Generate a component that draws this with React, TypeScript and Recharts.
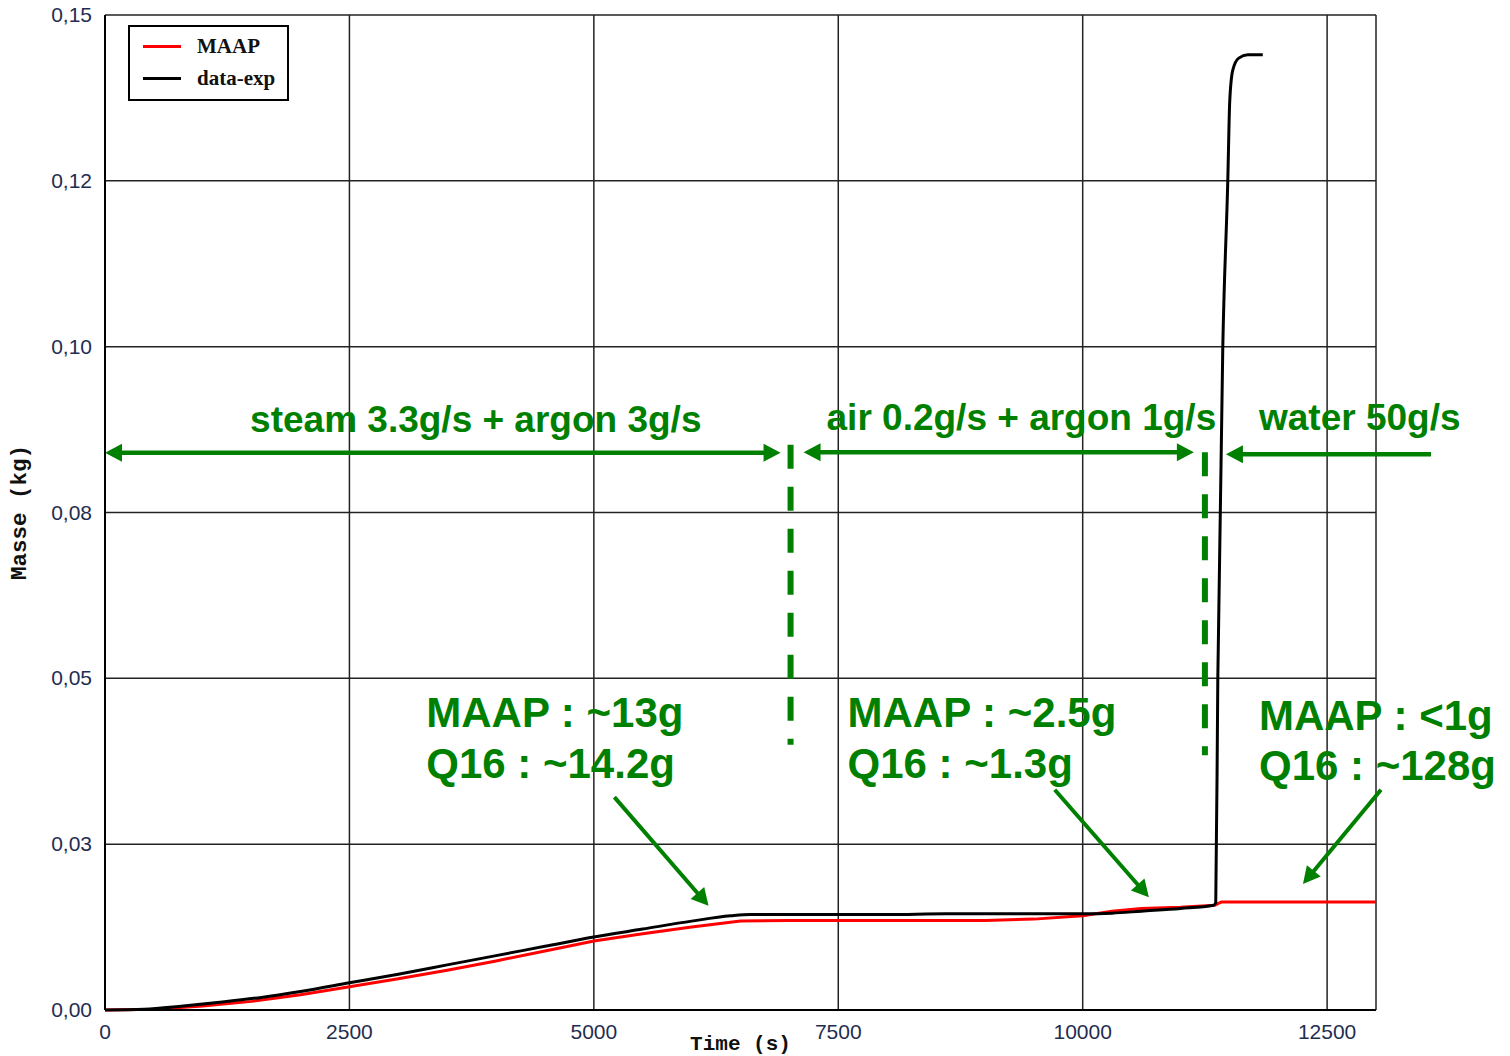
import React from 'react';
import {
  LineChart,
  Line,
  XAxis,
  YAxis,
  CartesianGrid,
  Legend,
  ReferenceLine,
  ReferenceDot,
} from 'recharts';

// MAAP calculation: cumulated mass (kg) vs time (s)
const maapTime = [0, 500, 1000, 1500, 2000, 2500, 3000, 3500, 4000, 4500, 5000, 5500, 6000, 6500, 7000, 8000, 9000, 9500, 10000, 10300, 10600, 11000, 11350, 11420, 13000];
const maapMass = [0, 0.0001, 0.0006, 0.0013, 0.0023, 0.0035, 0.0047, 0.006, 0.0074, 0.0089, 0.0104, 0.0115, 0.0125, 0.0134, 0.0135, 0.0135, 0.0135, 0.0137, 0.0142, 0.0149, 0.0153, 0.0155, 0.0158, 0.0163, 0.0163];

// experimental measurement
const expTime = [0, 400, 800, 1200, 1600, 2000, 2500, 3000, 3500, 4000, 4500, 5000, 5500, 6000, 6400, 6600, 8000, 8600, 9000, 10000, 10300, 10600, 11000, 11340, 11361, 11382, 11433, 11484, 11504, 11535, 11596, 11689, 11842];
const expMass = [0, 0.0001, 0.0006, 0.0012, 0.0019, 0.0028, 0.0041, 0.0054, 0.0068, 0.0082, 0.0096, 0.011, 0.0122, 0.0134, 0.0142, 0.0144, 0.0144, 0.0145, 0.0145, 0.0145, 0.0146, 0.0149, 0.0153, 0.0158, 0.0162, 0.05, 0.1, 0.125, 0.137, 0.1417, 0.1435, 0.144, 0.144];

const xTicks = [0, 2500, 5000, 7500, 10000, 12500, 13000];
const xTickLabels = ['0', '2500', '5000', '7500', '10000', '12500', ''];
const yTicks = [0, 0.025, 0.05, 0.075, 0.1, 0.125, 0.15];
const yTickLabels = ['0,00', '0,03', '0,05', '0,08', '0,10', '0,12', '0,15'];

// injection phases
const flowLabels = [
  { text: 'steam 3.3g/s + argon 3g/s', t: 1484, m: 0.0871 },
  { text: 'air 0.2g/s + argon 1g/s', t: 7380, m: 0.0874 },
  { text: 'water 50g/s', t: 11803, m: 0.0874 },
];
const flowArrows = [
  { from: [0, 0.084], to: [6910, 0.084], both: true },
  { from: [7145, 0.0841], to: [11137, 0.0841], both: true },
  { from: [13563, 0.0838], to: [11465, 0.0838], both: false },
];
const phaseLimits = [
  { t: 7012, top: 0.0852, bottom: 0.04 },
  { t: 11250, top: 0.0841, bottom: 0.0384 },
];

// mass produced in each phase
const massLabels = [
  { text: 'MAAP : ~13g', t: 3286, m: 0.0427 },
  { text: 'Q16 : ~14.2g', t: 3286, m: 0.035 },
  { text: 'MAAP : ~2.5g', t: 7595, m: 0.0427 },
  { text: 'Q16 : ~1.3g', t: 7595, m: 0.035 },
  { text: 'MAAP : <1g', t: 11803, m: 0.0422 },
  { text: 'Q16 : ~128g', t: 11803, m: 0.0347 },
];
const massArrows = [
  { from: [5210, 0.0321], to: [6173, 0.0157] },
  { from: [9714, 0.0332], to: [10677, 0.017] },
  { from: [13051, 0.0332], to: [12253, 0.019] },
];

const maapData = maapTime.map((t, i) => ({ t, m: maapMass[i] }));
const expData = expTime.map((t, i) => ({ t, m: expMass[i] }));

const GREEN = '#008000';
const TICK_COLOR = '#1f2d50';
const SANS = '"Liberation Sans", Arial, sans-serif';
const MONO = '"Liberation Mono", "Courier New", monospace';

const arrowShape = (both: boolean, width: number) => (p: any) => {
  const { x1, y1, x2, y2 } = p;
  const len = Math.hypot(x2 - x1, y2 - y1) || 1;
  const ux = (x2 - x1) / len;
  const uy = (y2 - y1) / len;
  const hl = 17;
  const hw = 9;
  const head = (tx: number, ty: number, dx: number, dy: number) => {
    const bx = tx - dx * hl;
    const by = ty - dy * hl;
    return `${tx},${ty} ${bx - dy * hw},${by + dx * hw} ${bx + dy * hw},${by - dx * hw}`;
  };
  const sx = both ? x1 + ux * (hl - 2) : x1;
  const sy = both ? y1 + uy * (hl - 2) : y1;
  return (
    <g>
      <line x1={sx} y1={sy} x2={x2 - ux * (hl - 2)} y2={y2 - uy * (hl - 2)} stroke={GREEN} strokeWidth={width} />
      <polygon points={head(x2, y2, ux, uy)} fill={GREEN} />
      {both && <polygon points={head(x1, y1, -ux, -uy)} fill={GREEN} />}
    </g>
  );
};

const textShape = (text: string, size: number) => (p: any) => (
  <text x={p.cx} y={p.cy} fill={GREEN} fontFamily={SANS} fontWeight={700} fontSize={size}>
    {text}
  </text>
);

const XTick = ({ x, y, payload, index }: any) => (
  <text x={x} y={y + 29} textAnchor="middle" fill={TICK_COLOR} fontFamily={SANS} fontSize={21}>
    {xTickLabels[xTicks.indexOf(payload.value)] ?? xTickLabels[index]}
  </text>
);

const YTick = ({ x, y, payload, index }: any) => (
  <text x={x - 13} y={y + 7} textAnchor="end" fill={TICK_COLOR} fontFamily={SANS} fontSize={21}>
    {yTickLabels[yTicks.indexOf(payload.value)] ?? yTickLabels[index]}
  </text>
);

const LegendBox = ({ payload }: any) => (
  <div
    style={{
      boxSizing: 'border-box',
      width: 161,
      height: 76,
      border: '2px solid #000',
      background: '#fff',
      paddingTop: 3,
      fontFamily: '"Liberation Serif", "Times New Roman", serif',
      fontWeight: 700,
      fontSize: 21,
      color: '#111',
    }}
  >
    {(payload || []).map((item: any) => (
      <div key={item.value} style={{ display: 'flex', alignItems: 'center', height: 32, marginLeft: 13 }}>
        <span style={{ display: 'inline-block', width: 38, height: 3, background: item.color, marginRight: 16 }} />
        <span>{item.value}</span>
      </div>
    ))}
  </div>
);

export default function App() {
  return (
    <div style={{ position: 'absolute', left: 0, top: 0, background: '#fff' }}>
      <LineChart width={1510} height={1056} margin={{ top: 15, right: 134, bottom: 0, left: 0 }}>
        <CartesianGrid stroke="#222" strokeWidth={1.5} />
        <XAxis
          type="number"
          dataKey="t"
          domain={[0, 13000]}
          ticks={xTicks}
          height={46}
          tickSize={0}
          tickMargin={0}
          tickLine={false}
          axisLine={{ stroke: '#000', strokeWidth: 2 }}
          tick={<XTick />}
          interval={0}
          label={{
            content: ({ viewBox }: any) => (
              <text
                x={viewBox.x + viewBox.width / 2}
                y={viewBox.y + 40}
                textAnchor="middle"
                fontFamily={MONO}
                fontWeight={700}
                fontSize={21}
                fill="#111"
              >
                Time (s)
              </text>
            ),
          }}
        />
        <YAxis
          type="number"
          domain={[0, 0.15]}
          ticks={yTicks}
          width={105}
          tickSize={0}
          tickMargin={0}
          tickLine={false}
          axisLine={{ stroke: '#000', strokeWidth: 2 }}
          tick={<YTick />}
          interval={0}
          label={{
            content: ({ viewBox }: any) => {
              const cx = 20;
              const cy = viewBox.y + viewBox.height / 2;
              return (
                <text
                  x={cx}
                  y={cy}
                  transform={`rotate(-90 ${cx} ${cy})`}
                  textAnchor="middle"
                  dominantBaseline="central"
                  fontFamily={MONO}
                  fontWeight={700}
                  fontSize={22.5}
                  fill="#111"
                >
                  Masse (kg)
                </text>
              );
            },
          }}
        />
        <Legend
          layout="horizontal"
          verticalAlign="middle"
          align="center"
          content={<LegendBox />}
          wrapperStyle={{ left: 128, top: 25, width: 161, height: 76 }}
        />

        {flowLabels.map((l) => (
          <ReferenceDot key={l.text} x={l.t} y={l.m} r={0} ifOverflow="visible" shape={textShape(l.text, 37)} />
        ))}
        {massLabels.map((l) => (
          <ReferenceDot key={l.text} x={l.t} y={l.m} r={0} ifOverflow="visible" shape={textShape(l.text, 42)} />
        ))}
        {phaseLimits.map((d) => (
          <ReferenceLine
            key={d.t}
            segment={[{ x: d.t, y: d.top }, { x: d.t, y: d.bottom }]}
            stroke={GREEN}
            strokeWidth={6}
            strokeDasharray="24 18"
            ifOverflow="visible"
          />
        ))}
        {flowArrows.map((a, i) => (
          <ReferenceLine
            key={`flow-${i}`}
            segment={[{ x: a.from[0], y: a.from[1] }, { x: a.to[0], y: a.to[1] }]}
            ifOverflow="visible"
            shape={arrowShape(a.both, 4.5)}
          />
        ))}
        {massArrows.map((a, i) => (
          <ReferenceLine
            key={`mass-${i}`}
            segment={[{ x: a.from[0], y: a.from[1] }, { x: a.to[0], y: a.to[1] }]}
            ifOverflow="visible"
            shape={arrowShape(false, 4)}
          />
        ))}

        <Line
          data={maapData}
          dataKey="m"
          name="MAAP"
          type="linear"
          stroke="#ff0000"
          strokeWidth={3}
          dot={false}
          activeDot={false}
          isAnimationActive={false}
        />
        <Line
          data={expData}
          dataKey="m"
          name="data-exp"
          type="monotone"
          stroke="#000"
          strokeWidth={3}
          dot={false}
          activeDot={false}
          isAnimationActive={false}
        />
      </LineChart>
    </div>
  );
}
